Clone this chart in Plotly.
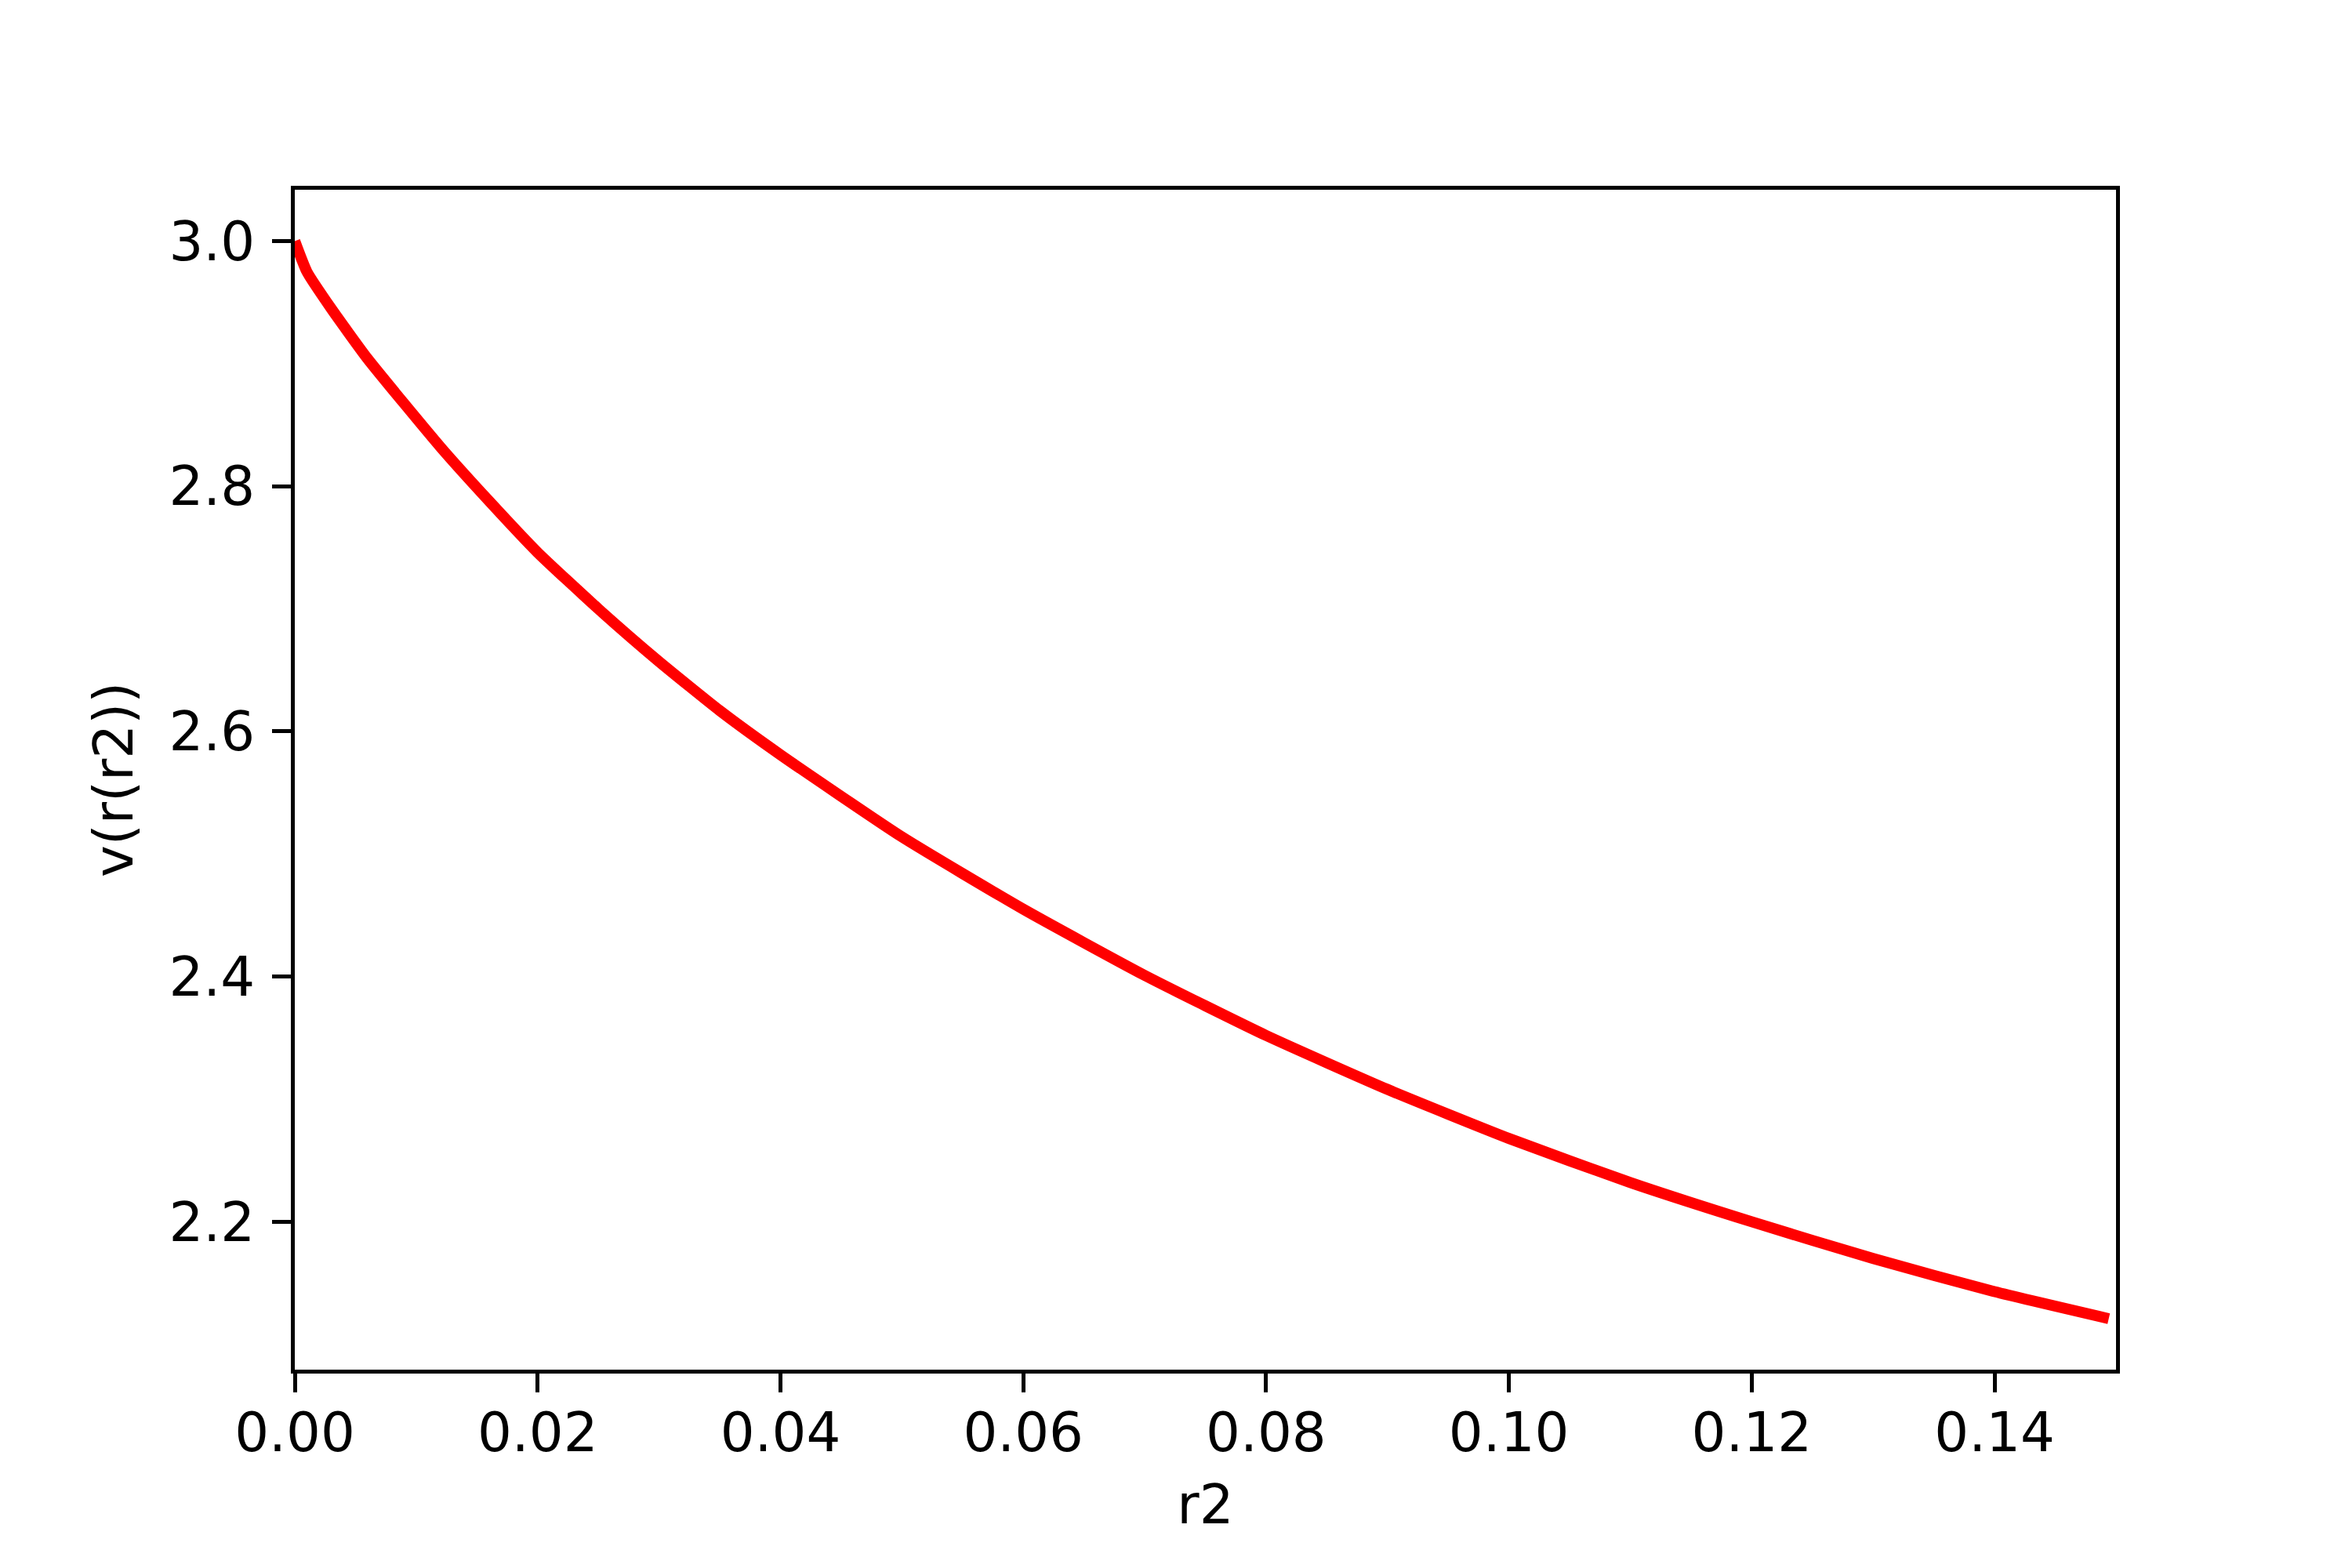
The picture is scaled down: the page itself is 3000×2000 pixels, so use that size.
import plotly.graph_objects as go

r2 = [0.0, 0.001, 0.003, 0.006, 0.012, 0.016, 0.02, 0.025, 0.03, 0.035, 0.04, 0.05, 0.06, 0.07,
      0.08, 0.09, 0.10, 0.11, 0.12, 0.13, 0.14, 0.1494]
v = [3.0, 2.975, 2.945, 2.904, 2.832, 2.788, 2.746, 2.700, 2.657, 2.617, 2.581, 2.514, 2.455, 2.401,
     2.352, 2.308, 2.268, 2.232, 2.200, 2.170, 2.143, 2.121]

x_ticks = [0.0, 0.02, 0.04, 0.06, 0.08, 0.10, 0.12, 0.14]
y_ticks = [2.2, 2.4, 2.6, 2.8, 3.0]

fig = go.Figure()
fig.add_trace(go.Scatter(x=r2, y=v, mode="lines",
                         line=dict(color="#ff0000", width=14, shape="spline", smoothing=0.5),
                         showlegend=False))

font = dict(family="DejaVu Sans", size=69, color="black")
fig.update_layout(
    width=3000, height=2000,
    margin=dict(l=368, r=309, t=234, b=261),
    paper_bgcolor="white", plot_bgcolor="white",
    font=font,
)
fig.update_xaxes(
    range=[0, 0.15], tickvals=x_ticks, tickformat=".2f",
    showline=True, mirror=True, linecolor="black", linewidth=5,
    ticks="outside", ticklen=24, tickwidth=5, tickcolor="black",
    showgrid=False, zeroline=False,
    ticklabelstandoff=-8,
    title=dict(text="r2", font=font, standoff=30),
    tickfont=font,
)
fig.update_yaxes(
    range=[2.0794, 3.0419], tickvals=y_ticks, tickformat=".1f",
    showline=True, mirror=True, linecolor="black", linewidth=5,
    ticks="outside", ticklen=24, tickwidth=5, tickcolor="black",
    showgrid=False, zeroline=False,
    ticklabelstandoff=8,
    title=dict(text="v(r(r2))", font=font, standoff=25),
    tickfont=font,
)
fig.write_html("out.html")
